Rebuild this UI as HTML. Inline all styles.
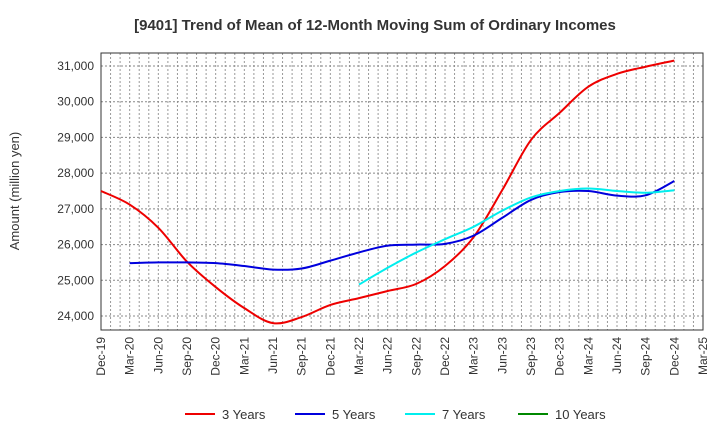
<!DOCTYPE html>
<html><head><meta charset="utf-8"><style>body{margin:0;background:#fff}svg{font-family:"Liberation Sans",sans-serif}</style></head>
<body>
<svg id="c" width="720" height="440"></svg>
<script>
const xLabels=["Dec-19","Mar-20","Jun-20","Sep-20","Dec-20","Mar-21","Jun-21","Sep-21","Dec-21","Mar-22","Jun-22","Sep-22","Dec-22","Mar-23","Jun-23","Sep-23","Dec-23","Mar-24","Jun-24","Sep-24","Dec-24","Mar-25"];
const yTicks=[24000,25000,26000,27000,28000,29000,30000,31000];
const s3=[27500,27120,26470,25520,24810,24220,23800,23970,24310,24500,24700,24900,25400,26210,27530,28930,29690,30420,30780,30980,31150];
const s5=[null,25480,25500,25500,25480,25400,25300,25330,25550,25780,25970,26000,26020,26250,26750,27250,27470,27500,27370,27380,27780];
const s7=[null,null,null,null,null,null,null,null,null,24880,25350,25780,26150,26500,26950,27320,27500,27570,27500,27450,27520];
const s10=[];
const L=101,R=703,T=53,B=330;
const X=i=>L+(R-L)*i/21;
const Y=v=>316-(v-24000)*250/7000;
const svg=document.getElementById('c');const NS='http://www.w3.org/2000/svg';
function mk(t,a,p){const e=document.createElementNS(NS,t);for(const k in a)e.setAttribute(k,a[k]);(p||svg).appendChild(e);return e;}
mk('rect',{x:L,y:T,width:R-L,height:B-T,fill:'#fff'});
for(let m=1;m<63;m++){const x=L+(R-L)*m/63;const g=mk('line',{x1:x,x2:x,y1:T,y2:B,stroke:'#999','stroke-dasharray':'2,2','stroke-width':1});}
yTicks.forEach(v=>{const y=Y(v);const g=mk('line',{x1:L,x2:R,y1:y,y2:y,stroke:'#888','stroke-dasharray':'2,2'});
const t=mk('text',{x:94,y:y+4,'text-anchor':'end','font-size':12,fill:'#333'});t.textContent=v.toLocaleString('en-US');});
xLabels.forEach((l,i)=>{const x=X(i);const t=mk('text',{x:0,y:0,transform:`translate(${x+4},337) rotate(-90)`,'text-anchor':'end','font-size':12,fill:'#333'});t.textContent=l;});
const fr=mk('rect',{x:L,y:T,width:R-L,height:B-T,fill:'none',stroke:'#333'});
function path(s,c,n){const p=[];s.forEach((v,i)=>{if(v!=null)p.push([X(i),Y(v)]);});if(p.length<2)return;
let d=`M${p[0][0]},${p[0][1]}`;for(let i=0;i<p.length-1;i++){const p0=p[Math.max(0,i-1)],p1=p[i],p2=p[i+1],p3=p[Math.min(p.length-1,i+2)];
d+=` C${p1[0]+(p2[0]-p0[0])/6},${p1[1]+(p2[1]-p0[1])/6} ${p2[0]-(p3[0]-p1[0])/6},${p2[1]-(p3[1]-p1[1])/6} ${p2[0]},${p2[1]}`;}
const e=mk('path',{d:d,fill:'none',stroke:c,'stroke-width':2});}
path(s3,'#ee0000','line-3-years');path(s5,'#0000dd','line-5-years');path(s7,'#00eeee','line-7-years');path(s10,'#008800','line-10-years');
const tt=mk('text',{x:375,y:30,'text-anchor':'middle','font-size':15,'font-weight':'bold',fill:'#333'});tt.textContent='[9401]  Trend of Mean of 12-Month Moving Sum of Ordinary Incomes';
const yt=mk('text',{x:0,y:0,transform:'translate(19,191) rotate(-90)','text-anchor':'middle','font-size':13,fill:'#333'});yt.textContent='Amount (million yen)';
[['3 Years','#ee0000',185],['5 Years','#0000dd',295],['7 Years','#00eeee',405],['10 Years','#008800',518]].forEach(([n,c,x])=>{const g=mk('g',{});
mk('line',{x1:x,x2:x+30,y1:414,y2:414,stroke:c,'stroke-width':2},g);const t=mk('text',{x:x+37,y:419,'font-size':13,fill:'#333'},g);t.textContent=n;});
</script>
</body></html>
